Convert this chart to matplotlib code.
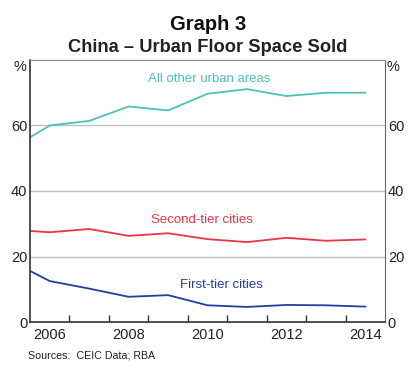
import matplotlib
matplotlib.use("Agg")
import matplotlib.pyplot as plt
import numpy as np

plt.rcParams['font.family'] = ['Liberation Sans', 'DejaVu Sans']

years = [2005, 2006, 2007, 2008, 2009, 2010, 2011, 2012, 2013, 2014]
all_other = [52.8, 60.0, 61.4, 65.8, 64.6, 69.7, 71.1, 69.0, 70.0, 70.0]
second_tier = [28.2, 27.4, 28.4, 26.3, 27.1, 25.3, 24.4, 25.7, 24.8, 25.2]
first_tier = [18.7, 12.5, 10.2, 7.7, 8.2, 5.1, 4.6, 5.2, 5.1, 4.7]

year_labels = ['2006', '2008', '2010', '2012', '2014']
y_ticks = [0, 20, 40, 60]
y_labels = ['0', '20', '40', '60']

c_teal = '#4CC3B2'
c_red = '#EC3447'
c_blue = '#20409C'

fig = plt.figure(figsize=(4.16, 3.76), dpi=100)
ax = fig.add_axes([30/416, 1-322/376, 355/416, 262/376])

x = np.array(years) + 0.5
ax.plot(x, all_other, color=c_teal, lw=1.3, clip_on=True)
ax.plot(x, second_tier, color=c_red, lw=1.3, clip_on=True)
ax.plot(x, first_tier, color=c_blue, lw=1.3, clip_on=True)

ax.set_xlim(2006, 2015)
ax.set_ylim(0, 80)

for g in [20, 40, 60]:
    ax.axhline(g, color='#C0C0C0', lw=1.0, zorder=0)

ax.set_yticks(y_ticks)
ax.set_yticklabels(y_labels)
ax.tick_params(axis='y', length=0, labelsize=10.5, pad=2, labelright=True, right=False,
               colors='#222222')
ax.text(-0.01, 78, '%', transform=ax.get_yaxis_transform(), ha='right', va='center',
        fontsize=10.5, color='#222222')
ax.text(1.005, 78, '%', transform=ax.get_yaxis_transform(), ha='left', va='center',
        fontsize=10.5, color='#222222')

ax.set_xticks(range(2007, 2015))
ax.tick_params(axis='x', which='major', direction='in', length=5, width=1,
               labelbottom=False, color='#333333')
ax.set_xticks([int(l) + 0.5 for l in year_labels], minor=True)
ax.set_xticklabels(year_labels, minor=True)
ax.tick_params(axis='x', which='minor', length=0, labelsize=10.5, pad=4, colors='#222222')

for s in ['left', 'bottom']:
    ax.spines[s].set_color('#333333')
    ax.spines[s].set_linewidth(1.2)
ax.spines['right'].set_color('#666666')
ax.spines['top'].set_color('#888888')

ax.text(2010.54, 74.2, 'All other urban areas', color=c_teal, fontsize=9.5, ha='center', va='center')
ax.text(2010.36, 31.1, 'Second-tier cities', color=c_red, fontsize=9.5, ha='center', va='center')
ax.text(2010.85, 11.3, 'First-tier cities', color=c_blue, fontsize=9.5, ha='center', va='center')

fig.text(0.5, 1-25/376, 'Graph 3', ha='center', va='center', fontsize=14.5, fontweight='bold', color='#111111')
fig.text(0.5, 1-47/376, 'China – Urban Floor Space Sold', ha='center', va='center', fontsize=13.2, fontweight='bold', color='#222222')
fig.text(28/416, 1-355/376, 'Sources:  CEIC Data; RBA', ha='left', va='center', fontsize=7.7, color='#222222')

fig.savefig('out.png', dpi=100)
